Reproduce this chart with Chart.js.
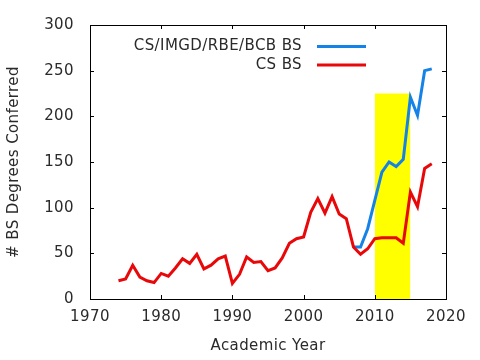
<!DOCTYPE html>
<html>
<head>
<meta charset="utf-8">
<script src="https://cdn.jsdelivr.net/npm/chart.js@4/dist/chart.umd.min.js"></script>
<style>
  html, body { margin: 0; padding: 0; background: #fff; }
  #wrap { width: 480px; height: 360px; }
</style>
</head>
<body>
<div id="wrap"><canvas id="c" width="480" height="360"></canvas></div>
<script>
const years = [1974,1975,1976,1977,1978,1979,1980,1981,1982,1983,1984,1985,1986,1987,1988,1989,
  1990,1991,1992,1993,1994,1995,1996,1997,1998,1999,2000,2001,2002,2003,2004,2005,2006,2007,2008,
  2009,2010,2011,2012,2013,2014,2015,2016,2017,2018];
const csBS = [20,22,37,24,20,18,28,25,34,44,39,49,33,37,44,47,
  17,27,46,40,41,31,34,45,61,66,68,95,110,94,112,93,88,57,49,
  55,66,67,67,67,61,117,101,143,148];
const comboYears = [2007,2008,2009,2010,2011,2012,2013,2014,2015,2016,2017,2018];
const comboBS = [57,57,77,108,139,150,145,153,221,201,250,252];
const highlightYears = [2010, 2015];
const highlightTop = 225;
const xTicks = [1970,1980,1990,2000,2010,2020];
const yTicks = [0,50,100,150,200,250,300];
const labels = ['CS/IMGD/RBE/BCB BS', 'CS BS'];
const xTitle = 'Academic Year';
const yTitle = '# BS Degrees Conferred';

const FONT = 'DejaVu Sans';
const TXT = '#2a2a2a';
const SPACING = '0.4px';

const pts = (xs, ys) => xs.map((x, i) => ({x: x, y: ys[i]}));

const spacingPlugin = {
  id: 'spacing',
  beforeInit(chart) { chart.ctx.letterSpacing = SPACING; },
  beforeLayout(chart) { chart.ctx.letterSpacing = SPACING; },
  beforeDraw(chart) { chart.ctx.letterSpacing = SPACING; }
};

const framePlugin = {
  id: 'frame',
  afterDatasetsDraw(chart) {
    const {ctx, chartArea: a, scales: {x, y}} = chart;
    ctx.save();
    ctx.strokeStyle = '#000';
    ctx.lineWidth = 1;
    ctx.beginPath();
    const L = 4;
    xTicks.forEach(v => {
      const px = Math.round(x.getPixelForValue(v)) + 0.5;
      ctx.moveTo(px, a.bottom); ctx.lineTo(px, a.bottom - L);
      ctx.moveTo(px, a.top); ctx.lineTo(px, a.top + L);
    });
    yTicks.forEach(v => {
      const py = Math.round(y.getPixelForValue(v)) + 0.5;
      ctx.moveTo(a.left, py); ctx.lineTo(a.left + L, py);
      ctx.moveTo(a.right, py); ctx.lineTo(a.right - L, py);
    });
    ctx.stroke();
    ctx.strokeRect(Math.round(a.left) + 0.5, Math.round(a.top) + 0.5,
                   Math.round(a.right - a.left), Math.round(a.bottom - a.top));
    // key
    ctx.letterSpacing = SPACING;
    ctx.font = '15px "' + FONT + '"';
    ctx.fillStyle = TXT;
    ctx.textAlign = 'right';
    ctx.textBaseline = 'middle';
    const keyDs = [chart.data.datasets[0], chart.data.datasets[1]];
    keyDs.forEach((ds, i) => {
      const ky = 46.5 + i * 18.5;
      ctx.fillText(ds.label, 302, ky);
      ctx.strokeStyle = ds.borderColor;
      ctx.lineWidth = 3;
      ctx.beginPath();
      ctx.moveTo(317, ky);
      ctx.lineTo(366, ky);
      ctx.stroke();
    });
    ctx.restore();
  }
};

new Chart(document.getElementById('c'), {
  type: 'line',
  data: {
    datasets: [
      {
        label: labels[0],
        data: pts(comboYears, comboBS),
        borderColor: '#1482e6',
        borderWidth: 3,
        pointRadius: 0,
        fill: false,
        tension: 0,
        order: 1
      },
      {
        label: labels[1],
        data: pts(years, csBS),
        borderColor: '#e8080a',
        borderWidth: 3,
        pointRadius: 0,
        fill: false,
        tension: 0,
        order: 0
      },
      {
        label: 'highlight',
        data: pts(highlightYears, [highlightTop, highlightTop]),
        borderWidth: 0,
        borderColor: 'rgba(0,0,0,0)',
        backgroundColor: '#ffff00',
        pointRadius: 0,
        fill: 'origin',
        order: 2
      }
    ]
  },
  options: {
    responsive: false,
    animation: false,
    events: [],
    layout: { padding: { left: 0, right: 34, top: 22, bottom: 0 } },
    plugins: { legend: { display: false }, tooltip: { enabled: false } },
    scales: {
      x: {
        type: 'linear',
        min: 1970, max: 2020,
        afterBuildTicks: s => { s.ticks = xTicks.map(v => ({value: v})); },
        afterFit: s => { s.height = 61; },
        grid: { display: false, drawTicks: false },
        border: { display: false },
        ticks: {
          color: TXT, font: { family: FONT, size: 15 }, padding: 9,
          maxRotation: 0, autoSkip: false,
          callback: v => String(v)
        },
        title: { display: true, text: xTitle, color: TXT,
                 font: { family: FONT, size: 15 }, padding: { top: 0, bottom: 5 } }
      },
      y: {
        type: 'linear',
        min: 0, max: 300,
        afterBuildTicks: s => { s.ticks = yTicks.map(v => ({value: v})); },
        afterFit: s => { s.width = 90; },
        grid: { display: false, drawTicks: false },
        border: { display: false },
        ticks: {
          color: TXT, font: { family: FONT, size: 15 }, padding: 16,
          autoSkip: false,
          callback: v => String(v)
        },
        title: { display: true, text: yTitle, color: TXT,
                 font: { family: FONT, size: 15 }, padding: { top: 5, bottom: 0 } }
      }
    }
  },
  plugins: [spacingPlugin, framePlugin]
});
</script>
</body>
</html>
